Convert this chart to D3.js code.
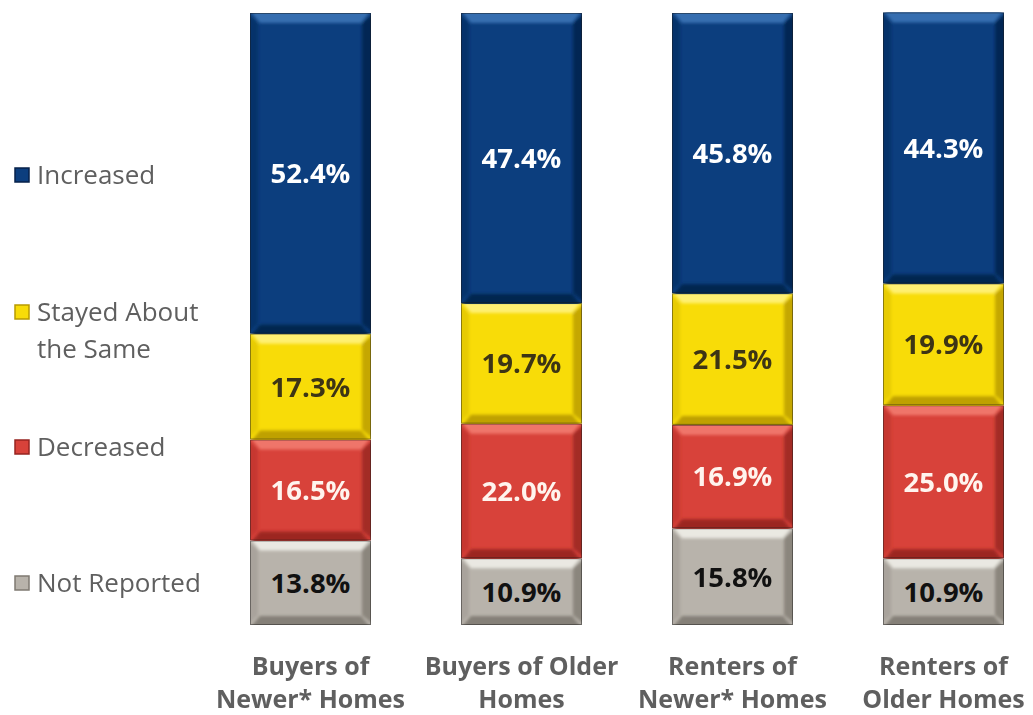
<!DOCTYPE html>
<html>
<head>
<meta charset="utf-8">
<script src="https://cdnjs.cloudflare.com/ajax/libs/d3/7.8.5/d3.min.js"></script>
<style>
  html, body { margin: 0; padding: 0; background: #ffffff; }
  svg { display: block; }
</style>
</head>
<body>
<svg id="chart" width="1033" height="715"></svg>
<script>
// Groups shown along the x axis (two-line labels)
const groups = ["Buyers of Newer* Homes", "Buyers of Older Homes", "Renters of Newer* Homes", "Renters of Older Homes"];
const groupLines = [["Buyers of", "Newer* Homes"], ["Buyers of Older", "Homes"], ["Renters of", "Newer* Homes"], ["Renters of", "Older Homes"]];

// Share of respondents (%) per response, stacked from the bottom up
const seriesKeys = ["Not Reported", "Decreased", "Stayed About the Same", "Increased"];
const notReported = [13.8, 10.9, 15.8, 10.9];
const decreased   = [16.5, 22.0, 16.9, 25.0];
const stayedSame  = [17.3, 19.7, 21.5, 19.9];
const increased   = [52.4, 47.4, 45.8, 44.3];

// Legend entries, top to bottom
const legendItems = [
  { key: "Increased", lines: ["Increased"] },
  { key: "Stayed About the Same", lines: ["Stayed About", "the Same"] },
  { key: "Decreased", lines: ["Decreased"] },
  { key: "Not Reported", lines: ["Not Reported"] }
];

const rows = groups.map((g, i) => ({
  group: g,
  "Not Reported": notReported[i],
  "Decreased": decreased[i],
  "Stayed About the Same": stayedSame[i],
  "Increased": increased[i]
}));

// Palette: base, top highlight, bottom shade, side shade, label colour
const palette = {
  "Increased":             { base: "#0c3e7e", top: "#3a74b6", bottom: "#06214a", side: "#082b5a", label: "#ffffff" },
  "Stayed About the Same": { base: "#f8dc08", top: "#fff27e", bottom: "#b89a00", side: "#d9bd00", label: "#3d3515" },
  "Decreased":             { base: "#d8423a", top: "#f27c70", bottom: "#962420", side: "#b8302b", label: "#fff4ee" },
  "Not Reported":          { base: "#b8b3ab", top: "#f0eee8", bottom: "#7f7a72", side: "#9c978f", label: "#111111" }
};

const svg = d3.select("#chart");
const defs = svg.append("defs");
defs.append("filter").attr("id", "soft").attr("x", "-10%").attr("y", "-10%").attr("width", "120%").attr("height", "120%")
  .append("feGaussianBlur").attr("stdDeviation", 1.6);

// Bars: 121px wide, 211px apart
const barW = 121;
const x = d3.scalePoint().domain(groups).range([250, 250 + 3 * 211]);

const y = d3.scaleLinear().domain([0, 100]).range([625, 13]);

const stack = d3.stack().keys(seriesKeys);
const stacked = stack(rows);

const bevel = 10;
const font = "'Open Sans', 'Noto Sans', sans-serif";

stacked.forEach(layer => {
  const key = layer.key;
  const c = palette[key];
  layer.forEach((d, i) => {
    const g = d.data.group;
    const x0 = x(g);
    const y0 = y(d[1]);
    const y1 = y(d[0]);
    const h = y1 - y0;
    const w = barW;
    const clipId = `clip-${seriesKeys.indexOf(key)}-${i}`;
    defs.append("clipPath").attr("id", clipId)
      .append("rect").attr("x", x0).attr("y", y0).attr("width", w).attr("height", h);

    const seg = svg.append("g").attr("clip-path", `url(#${clipId})`);
    seg.append("rect").attr("x", x0).attr("y", y0).attr("width", w).attr("height", h).attr("fill", c.base);

    const bevels = seg.append("g").attr("filter", "url(#soft)");
    // left face
    bevels.append("polygon")
      .attr("points", [[x0 - 3, y0], [x0 + bevel - 2, y0 + bevel], [x0 + bevel - 2, y1 - bevel], [x0 - 3, y1]].join(" "))
      .attr("fill", c.side).attr("opacity", 0.55);
    // right face
    bevels.append("polygon")
      .attr("points", [[x0 + w + 3, y0], [x0 + w - bevel + 1, y0 + bevel], [x0 + w - bevel + 1, y1 - bevel], [x0 + w + 3, y1]].join(" "))
      .attr("fill", c.bottom).attr("opacity", 0.8);
    // top face
    bevels.append("polygon")
      .attr("points", [[x0, y0 - 2], [x0 + w, y0 - 2], [x0 + w - bevel, y0 + bevel], [x0 + bevel, y0 + bevel]].join(" "))
      .attr("fill", c.top).attr("opacity", 0.9);
    // bottom face
    bevels.append("polygon")
      .attr("points", [[x0, y1 + 3], [x0 + w, y1 + 3], [x0 + w - bevel, y1 - bevel + 1], [x0 + bevel, y1 - bevel + 1]].join(" "))
      .attr("fill", c.bottom).attr("opacity", 0.9);

    seg.append("rect").attr("x", x0 + 0.5).attr("y", y0 + 0.5).attr("width", w - 1).attr("height", h - 1)
      .attr("fill", "none").attr("stroke", "#1a1a1a").attr("stroke-opacity", 0.45).attr("stroke-width", 1);

    const v = d.data[key];
    svg.append("text")
      .attr("x", x0 + w / 2)
      .attr("y", (y0 + y1) / 2)
      .attr("dy", "0.36em")
      .attr("text-anchor", "middle")
      .attr("font-family", font)
      .attr("font-weight", 700)
      .attr("font-size", 27.5)
      .attr("fill", c.label)
      .text(v.toFixed(1) + "%");
  });
});

// Category labels
groups.forEach((g, i) => {
  const cx = x(g) + barW / 2;
  const t = svg.append("text")
    .attr("text-anchor", "middle")
    .attr("font-family", font)
    .attr("font-weight", 700)
    .attr("font-size", 25)
    .attr("fill", "#5f5f5f");
  groupLines[i].forEach((line, j) => {
    t.append("tspan").attr("x", cx).attr("y", 675 + j * 33).text(line);
  });
});

// Legend
const legendY = { "Increased": 175, "Stayed About the Same": 312, "Decreased": 447, "Not Reported": 583 };
legendItems.forEach(item => {
  const c = palette[item.key];
  const cy = legendY[item.key];
  svg.append("rect").attr("x", 15).attr("y", cy - 7).attr("width", 14).attr("height", 14)
    .attr("fill", c.base).attr("stroke", c.bottom).attr("stroke-width", 1.5);
  const t = svg.append("text")
    .attr("font-family", font)
    .attr("font-size", 26)
    .attr("fill", "#5f5f5f");
  item.lines.forEach((line, j) => {
    t.append("tspan").attr("x", 37).attr("y", cy + 9 + j * 37).text(line);
  });
});
</script>
</body>
</html>
